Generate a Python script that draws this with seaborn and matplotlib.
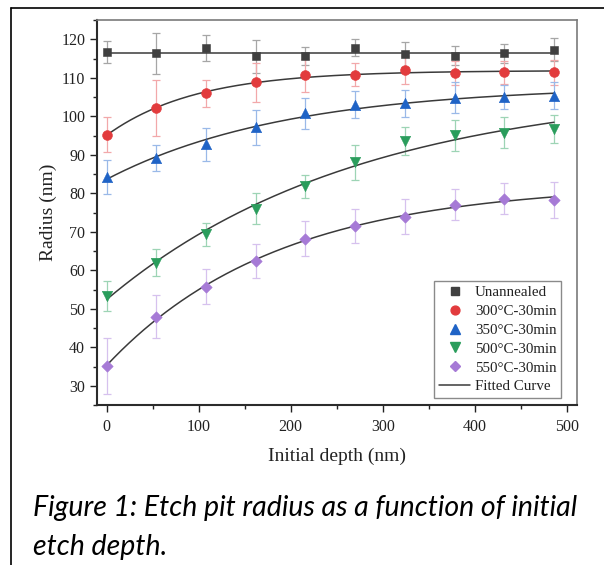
import numpy as np
import pandas as pd
import matplotlib
matplotlib.use("Agg")
import matplotlib.pyplot as plt
from matplotlib.lines import Line2D
from matplotlib.ticker import MultipleLocator
import seaborn as sns

# ---- measured etch-pit radii (nm) versus initial etch depth (nm) ----
depth = [0, 54, 108, 162, 216, 270, 324, 378, 432, 486]

series_names = ["Unannealed", "300°C-30min", "350°C-30min", "500°C-30min", "550°C-30min"]

radius_unannealed = [116.7, 116.3, 117.7, 115.6, 115.6, 117.8, 116.1, 115.7, 116.3, 117.3]
radius_300 = [95.2, 102.1, 106.0, 108.8, 110.6, 110.8, 112.1, 111.2, 111.4, 111.4]
radius_350 = [84.2, 89.2, 92.7, 97.1, 100.8, 103.0, 103.4, 104.8, 105.0, 105.3]
radius_500 = [53.3, 62.0, 69.4, 76.0, 81.8, 88.0, 93.6, 95.1, 95.7, 96.6]
radius_550 = [35.1, 47.9, 55.7, 62.3, 68.2, 71.4, 73.9, 77.0, 78.6, 78.2]

err_unannealed = [2.8, 5.2, 3.3, 4.3, 2.3, 2.2, 3.3, 2.5, 2.5, 3.0]
err_300 = [4.5, 7.2, 3.5, 5.0, 4.2, 3.0, 3.6, 3.2, 3.0, 3.2]
err_350 = [4.5, 3.3, 4.3, 4.5, 4.0, 3.5, 3.5, 4.0, 3.2, 3.5]
err_500 = [4.0, 3.5, 3.0, 4.0, 3.0, 4.5, 3.6, 4.0, 4.0, 3.6]
err_550 = [7.2, 5.6, 4.5, 4.4, 4.6, 4.4, 4.6, 4.0, 4.0, 4.6]

radii = [radius_unannealed, radius_300, radius_350, radius_500, radius_550]
errors = [err_unannealed, err_300, err_350, err_500, err_550]

marker_colors = ["#404040", "#e23b3d", "#1f63c6", "#2a9d5c", "#a67ad6"]
errbar_colors = ["#a6a6a6", "#f2a8aa", "#9ab9e8", "#9dd4b5", "#d6c1ee"]
markers = ["s", "o", "^", "v", "D"]
marker_sizes = [40, 50, 56, 56, 34]
fit_kind = ["constant", "exp", "exp", "exp", "exp"]

rows = []
for name, r, e in zip(series_names, radii, errors):
    for d, rv, ev in zip(depth, r, e):
        rows.append({"depth": d, "radius": rv, "err": ev, "series": name})
df = pd.DataFrame(rows)


def fit_curve(x, y, kind, xs):
    """Least-squares fit: constant level, or saturating exponential A - B*exp(-x/t)."""
    x = np.asarray(x, float)
    y = np.asarray(y, float)
    if kind == "constant":
        return np.full_like(xs, y.mean())
    best = None
    for t in np.geomspace(10, 5000, 3000):
        basis = np.column_stack([np.ones_like(x), np.exp(-x / t)])
        coef, *_ = np.linalg.lstsq(basis, y, rcond=None)
        sse = float(((basis @ coef - y) ** 2).sum())
        if best is None or sse < best[0]:
            best = (sse, coef, t)
    _, coef, t = best
    return coef[0] + coef[1] * np.exp(-xs / t)


sns.set_style("ticks")
plt.rcParams["font.family"] = ["Liberation Serif", "DejaVu Serif"]
plt.rcParams["mathtext.fontset"] = "stix"

W, H = 604, 565
fig = plt.figure(figsize=(W / 100, H / 100), dpi=100)
fig.patch.set_facecolor("white")

ax_l, ax_r, ax_t, ax_b = 97, 577, 20, 405
ax = fig.add_axes([ax_l / W, 1 - ax_b / H, (ax_r - ax_l) / W, (ax_b - ax_t) / H])

xs = np.linspace(min(depth), max(depth), 300)
handles = []
for i, name in enumerate(series_names):
    sub = df[df["series"] == name]
    ax.errorbar(sub["depth"], sub["radius"], yerr=sub["err"], fmt="none",
                ecolor=errbar_colors[i], elinewidth=0.9, capsize=3.0,
                capthick=0.9, zorder=1)
    fit_df = pd.DataFrame({"depth": xs,
                           "radius": fit_curve(sub["depth"], sub["radius"], fit_kind[i], xs)})
    sns.lineplot(data=fit_df, x="depth", y="radius", ax=ax, color="#3a3a3a",
                 linewidth=1.1, zorder=2, legend=False)
    sns.scatterplot(data=sub, x="depth", y="radius", ax=ax, marker=markers[i],
                    s=marker_sizes[i], color=marker_colors[i], edgecolor=marker_colors[i],
                    linewidth=0.4, zorder=3, legend=False)
    handles.append(Line2D([], [], linestyle="none", marker=markers[i],
                          markersize=np.sqrt(marker_sizes[i]) * 0.9,
                          markerfacecolor=marker_colors[i],
                          markeredgecolor=marker_colors[i], label=name))
handles.append(Line2D([], [], color="#3a3a3a", linewidth=1.1, label="Fitted Curve"))

ax.set_xlim(-10.5, 511)
ax.set_ylim(25, 125)
ax.xaxis.set_major_locator(MultipleLocator(100))
ax.xaxis.set_minor_locator(MultipleLocator(50))
ax.yaxis.set_major_locator(MultipleLocator(10))
ax.yaxis.set_minor_locator(MultipleLocator(5))
ax.set_yticks(np.arange(30, 121, 10))

ax.tick_params(axis="both", which="major", direction="out", length=5, width=1.0,
               labelsize=11.5, colors="#222222")
ax.tick_params(axis="both", which="minor", direction="out", length=3, width=1.0,
               colors="#222222")
ax.tick_params(axis="x", pad=5)
ax.tick_params(axis="y", pad=3.5)
ax.tick_params(top=False, right=False, which="both")

for side in ["left", "bottom"]:
    ax.spines[side].set_color("#2b2b2b")
    ax.spines[side].set_linewidth(1.5)
for side in ["top", "right"]:
    ax.spines[side].set_visible(True)
    ax.spines[side].set_color("#7a7a7a")
    ax.spines[side].set_linewidth(1.2)

ax.set_xlabel("Initial depth (nm)", fontsize=14, color="#222222")
ax.set_ylabel("Radius (nm)", fontsize=14, color="#222222")
ax.xaxis.label.set_va("center")
ax.yaxis.label.set_va("center")
ax.xaxis.set_label_coords(0.5, (ax_b - 456) / (ax_b - ax_t))
ax.yaxis.set_label_coords((48 - ax_l) / (ax_r - ax_l), 0.5)

leg = ax.legend(handles=handles, loc="lower right",
                bbox_to_anchor=((561 - ax_l) / (ax_r - ax_l), (ax_b - 398) / (ax_b - ax_t)),
                fontsize=10.8, frameon=True, fancybox=False, framealpha=1,
                edgecolor="#8a8a8a", borderpad=0.3, handlelength=2.1,
                handletextpad=0.3, labelspacing=0.36, borderaxespad=0)
leg.get_frame().set_linewidth(1.0)
for txt in leg.get_texts():
    txt.set_color("#222222")

# outer frame of the figure box
fig.add_artist(Line2D([11 / W, 11 / W], [0, 1 - 8 / H], transform=fig.transFigure,
                      color="black", linewidth=1.2))
fig.add_artist(Line2D([11 / W, 1], [1 - 8 / H, 1 - 8 / H], transform=fig.transFigure,
                      color="black", linewidth=1.2))

# caption, sized so the first line spans the plot width
cap1 = "Figure 1: Etch pit radius as a function of initial"
cap2 = "etch depth."
cap_font = ["Lato", "DejaVu Sans"]
t1 = fig.text(33 / W, 1 - 508 / H, cap1, fontsize=18, style="italic",
              family=cap_font, va="center", ha="left", color="black")
fig.canvas.draw()
width_px = t1.get_window_extent().width
size = 18 * (544 / width_px)
t1.set_fontsize(size)
fig.text(33 / W, 1 - 547 / H, cap2, fontsize=size, style="italic",
         family=cap_font, va="center", ha="left", color="black")

fig.savefig("out.png", dpi=100, facecolor="white")
